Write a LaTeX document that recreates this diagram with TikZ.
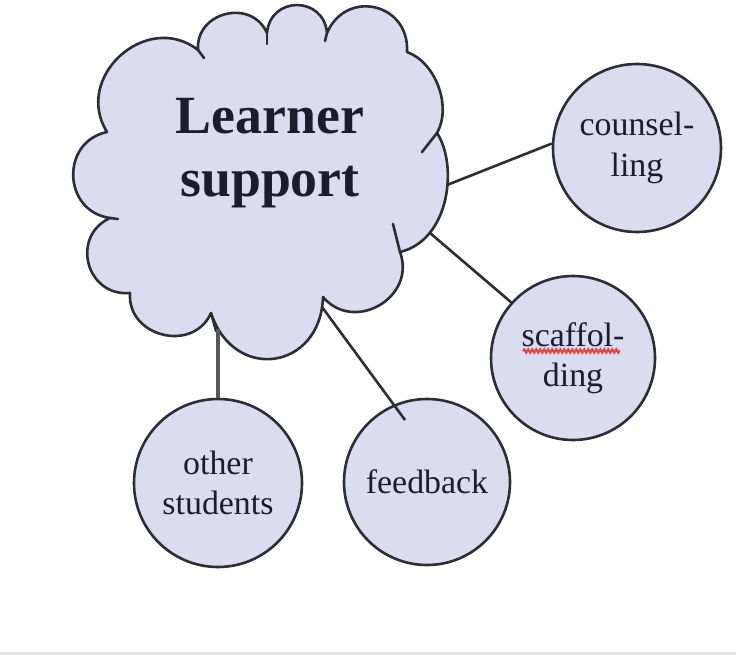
\documentclass[tikz,border=0pt]{standalone}
\usepackage{fontspec}
\setmainfont{Liberation Serif}
\usetikzlibrary{decorations.pathmorphing}
\definecolor{bubble}{RGB}{218,220,240}
\definecolor{rim}{RGB}{45,45,52}
\definecolor{ink}{RGB}{28,28,44}
\definecolor{spell}{RGB}{226,72,72}
\begin{document}
\begin{tikzpicture}[x=1bp,y=1bp,
  topic/.style={circle,draw=rim,fill=bubble,line width=2.6bp,inner sep=0pt,
    text=ink,align=center,font=\fontsize{34}{40.5}\selectfont},
  link/.style={draw=rim,line width=2.6bp},
  puff/.style={draw=rim,fill=bubble,line width=2.6bp,line join=round}]
  \useasboundingbox (0,0) rectangle (736,-655);
  \fill[white] (0,0) rectangle (736,-655);
  \fill[black!12] (0,-652) rectangle (736,-655);
  % cloud
  \draw[puff] (198,-50) to[bend left=80,looseness=1.38] (267,-33)
    to[bend left=85,looseness=1.6] (327,-33)
    to[bend left=80,looseness=1.52] (407,-52)
    to[bend left=50,looseness=0.9] (437,-133)
    .. controls (458,-165) and (450,-240) .. (400,-252)
    to[bend left=80,looseness=1.38] (323,-297)
    to[bend left=80,looseness=1.66] (211,-313)
    to[bend left=80,looseness=1.35] (130,-293)
    to[bend left=80,looseness=1.45] (110,-218)
    to[bend left=80,looseness=1.42] (107,-132)
    to[bend left=80,looseness=1.35] (198,-50) -- cycle;
  \foreach \xa/\ya/\xb/\yb in {198/50/204/58, 267/33/267/44, 327/33/325/41,
      437/133/422/152, 400/252/393/224, 211/313/216/331, 110/218/118/219}
    \draw[rim,line width=2.6bp,line cap=round] (\xa,-\ya) -- (\xb,-\yb);
  \node[inner sep=0pt,align=center,text=ink,font=\bfseries\fontsize{54}{64}\selectfont]
    (hubtext) at (270,-153) {Learner\\support};
  % topics
  \node[topic,minimum size=168bp] (couns) at (637,-148) {counsel-\\ling};
  \node[topic,minimum size=164bp] (scaf) at (573,-358) {scaffol-\\ding};
  \node[topic,minimum size=166bp] (feed) at (427,-482) {feedback};
  \node[topic,minimum size=168bp] (oth) at (218,-483) {other\\students};
  \draw[spell,line width=2.2bp,decorate,
    decoration={snake,segment length=4bp,amplitude=1.6bp}] (523,-351) -- (620,-351);
  % links
  \coordinate (hubE) at (447,-185);
  \coordinate (hubSE) at (430,-233);
  \coordinate (hubS) at (322,-307);
  \coordinate (hubSW) at (218,-329);
  \coordinate (feedIn) at (405,-420);
  \draw[link] (hubE) -- (couns.177);
  \draw[link] (hubSE) -- (scaf.138);
  \draw[link] (hubS) -- (feedIn);
  \draw[link,draw=rim!80,line width=3.5bp] (hubSW) -- (oth.north);
\end{tikzpicture}
\end{document}
